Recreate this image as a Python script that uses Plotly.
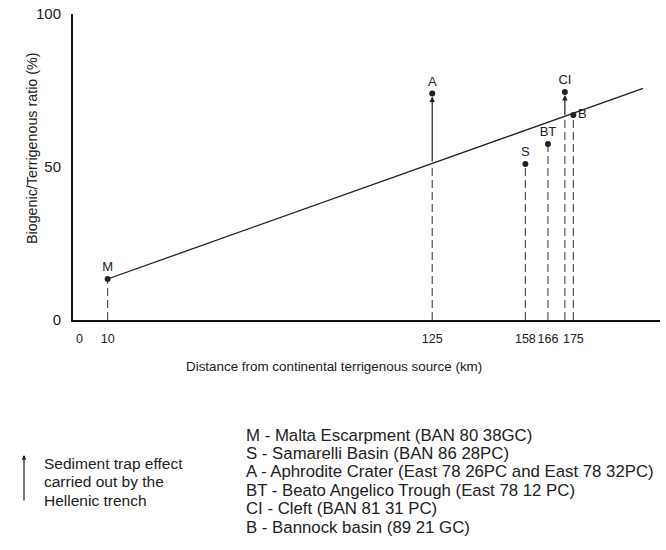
import plotly.graph_objects as go

# ---- data ----
site_labels = ["M", "A", "S", "BT", "CI", "B"]
site_dist = [10, 125, 158, 166, 172, 175]           # km
site_ratio = [13.4, 74, 51, 57.5, 74.5, 67]          # %

trap_labels = ["A", "CI"]                            # sediment-trap effect
trap_base = [51.3, 66.5]                             # ratio where trend crosses

trend_x = [10, 199.7]
trend_y = [13.4, 75.7]

x_ticks = [0, 10, 125, 158, 166, 175]
y_ticks = [0, 50, 100]

legend_left = ["Sediment trap effect", "carried out by the", "Hellenic trench"]
legend_right = [
    "M - Malta Escarpment (BAN 80 38GC)",
    "S - Samarelli Basin (BAN 86 28PC)",
    "A - Aphrodite Crater (East 78 26PC and East 78 32PC)",
    "BT - Beato Angelico Trough (East 78 12 PC)",
    "CI - Cleft (BAN 81 31 PC)",
    "B - Bannock basin (89 21 GC)",
]

FONT = "Arial, Liberation Sans, sans-serif"
INK = "#222222"

W, H = 666, 550
L, R, T, B = 73, 6, 14, 230
PW, PH = W - L - R, H - T - B


def px(xpix):
    return (xpix - L) / PW


def py(ypix):
    return (H - B - ypix) / PH


fig = go.Figure()

# trend line
fig.add_trace(go.Scatter(x=trend_x, y=trend_y, mode="lines",
                         line=dict(color=INK, width=1.3), hoverinfo="skip",
                         showlegend=False))

# dashed drop lines
for lab, xv, yv in zip(site_labels, site_dist, site_ratio):
    top = trap_base[trap_labels.index(lab)] if lab in trap_labels else yv
    fig.add_trace(go.Scatter(x=[xv, xv], y=[0, top], mode="lines",
                             line=dict(color="#444444", width=1.1, dash="8px,4px"),
                             hoverinfo="skip", showlegend=False))

# points with labels
text_pos = ["middle right" if l == "B" else "top center" for l in site_labels]
fig.add_trace(go.Scatter(x=site_dist, y=site_ratio, mode="markers+text",
                         marker=dict(color=INK, size=6),
                         text=site_labels, textposition=text_pos,
                         textfont=dict(family=FONT, size=13, color=INK),
                         showlegend=False))

# sediment trap arrows
for lab, base in zip(trap_labels, trap_base):
    i = site_labels.index(lab)
    fig.add_annotation(x=site_dist[i], y=site_ratio[i], ax=site_dist[i], ay=base,
                       xref="x", yref="y", axref="x", ayref="y",
                       showarrow=True, arrowhead=2, arrowsize=0.9,
                       arrowwidth=1.2, arrowcolor=INK, standoff=3, text="")

# axis titles
fig.add_annotation(x=px(22), y=py(148), xref="paper", yref="paper",
                   text="Biogenic/Terrigenous ratio (%)", textangle=-90,
                   showarrow=False, font=dict(family=FONT, size=14.3, color=INK))
fig.add_annotation(x=px(334), y=py(376), xref="paper", yref="paper",
                   text="Distance from continental terrigenous source (km)",
                   showarrow=False, font=dict(family=FONT, size=13.4, color=INK))

# legend: arrow + text
fig.add_annotation(x=px(24), y=py(455), xref="paper", yref="paper",
                   ax=0, ay=47, showarrow=True, arrowhead=2, arrowsize=0.8,
                   arrowwidth=1.2, arrowcolor=INK, text="")
for k, line in enumerate(legend_left):
    fig.add_annotation(x=px(42), y=py(463 + 18.5 * k), xref="paper", yref="paper",
                       text=line, showarrow=False, xanchor="left", yanchor="middle",
                       font=dict(family=FONT, size=15.5, color=INK))
for k, line in enumerate(legend_right):
    fig.add_annotation(x=px(244), y=py(435 + 18.4 * k), xref="paper", yref="paper",
                       text=line, showarrow=False, xanchor="left", yanchor="middle",
                       font=dict(family=FONT, size=16.8, color=INK))

fig.update_layout(
    width=W, height=H,
    margin=dict(l=L, r=R, t=T, b=B, pad=0, autoexpand=False),
    paper_bgcolor="white", plot_bgcolor="white",
    font=dict(family=FONT, color=INK),
    xaxis=dict(range=[-2.27, 205.7], tickvals=x_ticks,
               tickangle=0, automargin=False,
               showgrid=False, zeroline=False, showline=True, linecolor="#111111",
               linewidth=2, ticks="", ticklabelstandoff=6,
               tickfont=dict(family=FONT, size=12.5, color=INK)),
    yaxis=dict(range=[0, 100], tickvals=y_ticks, showgrid=False, zeroline=False,
               automargin=False,
               showline=True, linecolor="#111111", linewidth=2, ticks="",
               ticklabelstandoff=7, tickfont=dict(family=FONT, size=15, color=INK)),
)

fig.write_html("out.html", config={"displayModeBar": False},
               post_script="document.body.style.margin='0';document.body.style.padding='0';")
